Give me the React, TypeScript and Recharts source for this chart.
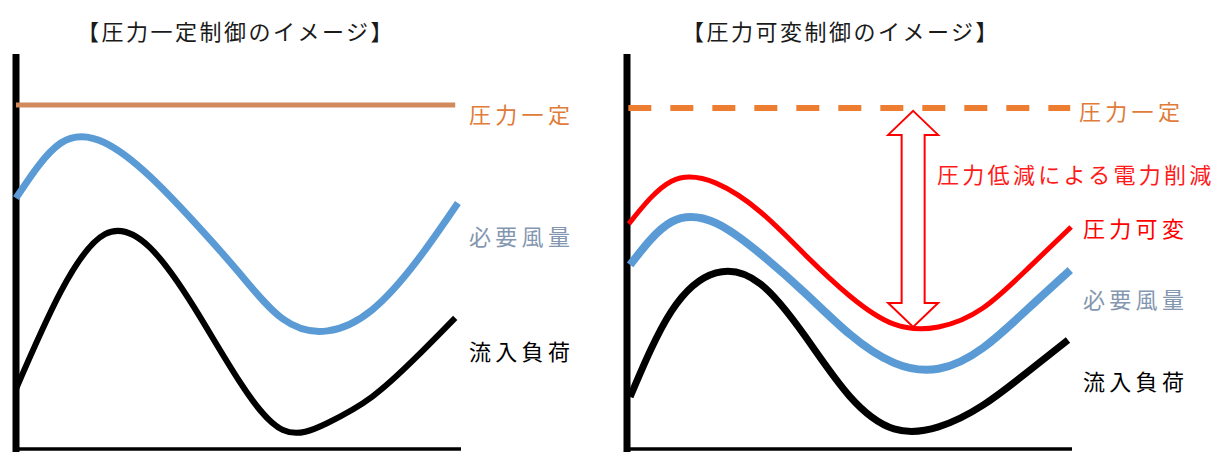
import { LineChart, Line, XAxis, YAxis, ReferenceLine } from 'recharts';

// values on a 0-100 scale (x: time, y: level)

// 圧力一定制御
const constPressureLeft = [
  { x: 0, y: 87.1 },
  { x: 98.7, y: 87.1 },
];
const airflowLeft = [
  { x: 0, y: 63.5 }, { x: 10, y: 77.4 }, { x: 20, y: 77.5 }, { x: 30, y: 69.1 },
  { x: 40, y: 57.5 }, { x: 50, y: 44.8 }, { x: 60, y: 32.9 }, { x: 70, y: 29.9 },
  { x: 80, y: 35.2 }, { x: 90, y: 47.5 }, { x: 99.3, y: 62.3 },
];
const loadLeft = [
  { x: 0, y: 15.2 }, { x: 10, y: 39.7 }, { x: 20, y: 54.4 }, { x: 30, y: 51.1 },
  { x: 40, y: 35.9 }, { x: 50, y: 17.5 }, { x: 60, y: 4.8 }, { x: 70, y: 6.6 },
  { x: 80, y: 13.2 }, { x: 90, y: 23.3 }, { x: 98.7, y: 33.2 },
];

// 圧力可変制御
const constPressureRight = [
  { x: 0.3, y: 86.3 },
  { x: 99.6, y: 86.3 },
];
const variablePressureRight = [
  { x: 0.4, y: 57.0 }, { x: 10, y: 67.8 }, { x: 20, y: 67.3 }, { x: 30, y: 60.0 },
  { x: 40, y: 49.2 }, { x: 50, y: 38.8 }, { x: 60, y: 31.6 }, { x: 70, y: 30.9 },
  { x: 80, y: 35.7 }, { x: 90, y: 45.6 }, { x: 99.8, y: 56.2 },
];
const airflowRight = [
  { x: 0.7, y: 46.6 }, { x: 10, y: 57.5 }, { x: 20, y: 57.2 }, { x: 30, y: 49.4 },
  { x: 40, y: 39.5 }, { x: 50, y: 29.1 }, { x: 60, y: 21.8 }, { x: 70, y: 20.3 },
  { x: 80, y: 25.6 }, { x: 90, y: 35.4 }, { x: 99.6, y: 45.3 },
];
const loadRight = [
  { x: 0.7, y: 13.2 }, { x: 10, y: 34.9 }, { x: 20, y: 44.6 }, { x: 30, y: 41.8 },
  { x: 40, y: 28.6 }, { x: 50, y: 13.4 }, { x: 60, y: 5.1 }, { x: 70, y: 5.6 },
  { x: 80, y: 11.1 }, { x: 90, y: 19.5 }, { x: 99.1, y: 27.6 },
];

// span of the saving arrow (from constant pressure down to the variable-pressure minimum)
const savingX = 64.3;
const savingTop = 85.6;
const savingBottom = 30.9;

const FONT = "'Noto Sans CJK JP', 'Noto Sans', sans-serif";
const W = 610;
const H = 452;
const MARGIN = { top: 54, right: W - 16 - 445, bottom: 3, left: 16 };

const DoubleArrow = (props: any) => {
  const { x1, y1, y2 } = props;
  const top = Math.min(y1, y2);
  const bot = Math.max(y1, y2);
  const hl = 24;
  const hw = 25;
  const sw = 11.5;
  const pts = [
    [x1, top], [x1 + hw, top + hl], [x1 + sw, top + hl], [x1 + sw, bot - hl], [x1 + hw, bot - hl],
    [x1, bot], [x1 - hw, bot - hl], [x1 - sw, bot - hl], [x1 - sw, top + hl], [x1 - hw, top + hl],
  ];
  return (
    <polygon
      points={pts.map((p) => p.join(',')).join(' ')}
      fill="#fff"
      stroke="#ff0000"
      strokeWidth={2}
    />
  );
};

const Axes = () => [
  <ReferenceLine
    key="yaxis"
    segment={[{ x: 0, y: -1 }, { x: 0, y: 100 }]}
    stroke="#000"
    strokeWidth={7}
    ifOverflow="visible"
  />,
  <ReferenceLine
    key="xaxis"
    segment={[{ x: 0, y: 0 }, { x: 100, y: 0 }]}
    stroke="#000"
    strokeWidth={3.5}
    ifOverflow="visible"
  />,
];

const Text = ({ left, cy, color, children, size = 22, spacing = 4.3, center = false }: any) => (
  <div
    style={{
      position: 'absolute',
      left: center ? left - 200 : left,
      width: center ? 400 : undefined,
      textAlign: center ? 'center' : 'left',
      top: cy - 12,
      height: 24,
      lineHeight: '24px',
      fontSize: size,
      letterSpacing: spacing,
      color,
      fontFamily: FONT,
      whiteSpace: 'nowrap',
    }}
  >
    {children}
  </div>
);

export default function App() {
  return (
    <div style={{ position: 'absolute', left: 0, top: 0, width: 1220, height: 452, background: '#fff', overflow: 'hidden' }}>
      <div style={{ position: 'absolute', left: 0, top: 0 }}>
        <LineChart width={W} height={H} margin={MARGIN}>
          <XAxis type="number" dataKey="x" domain={[0, 100]} hide />
          <YAxis type="number" dataKey="y" domain={[0, 100]} hide />
          {Axes()}
          <Line data={constPressureLeft} dataKey="y" type="linear" stroke="#d08a5c" strokeWidth={5} dot={false} isAnimationActive={false} />
          <Line data={airflowLeft} dataKey="y" type="natural" stroke="#5b9bd5" strokeWidth={7} dot={false} isAnimationActive={false} />
          <Line data={loadLeft} dataKey="y" type="natural" stroke="#000" strokeWidth={6} dot={false} isAnimationActive={false} />
        </LineChart>
      </div>
      <div style={{ position: 'absolute', left: 611, top: 0 }}>
        <LineChart width={W - 1} height={H} margin={{ ...MARGIN, right: W - 1 - 16 - 445 }}>
          <XAxis type="number" dataKey="x" domain={[0, 100]} hide />
          <YAxis type="number" dataKey="y" domain={[0, 100]} hide />
          {Axes()}
          <Line data={constPressureRight} dataKey="y" type="linear" stroke="#ed7d31" strokeWidth={6} strokeDasharray="23 19" dot={false} isAnimationActive={false} />
          <Line data={variablePressureRight} dataKey="y" type="natural" stroke="#ff0000" strokeWidth={5} dot={false} isAnimationActive={false} />
          <Line data={airflowRight} dataKey="y" type="natural" stroke="#5b9bd5" strokeWidth={8} dot={false} isAnimationActive={false} />
          <Line data={loadRight} dataKey="y" type="natural" stroke="#000" strokeWidth={7} dot={false} isAnimationActive={false} />
          <ReferenceLine
            segment={[{ x: savingX, y: savingTop }, { x: savingX, y: savingBottom }]}
            shape={DoubleArrow}
            ifOverflow="visible"
          />
        </LineChart>
      </div>

      <Text left={236} cy={30} color="#1a1a1a" spacing={2.5} center>【圧力一定制御のイメージ】</Text>
      <Text left={841} cy={30} color="#1a1a1a" spacing={2.5} center>【圧力可変制御のイメージ】</Text>

      <Text left={469} cy={113} color="#e07b39">圧力一定</Text>
      <Text left={469} cy={235} color="#8497b0">必要風量</Text>
      <Text left={469} cy={350} color="#000">流入負荷</Text>

      <Text left={1079} cy={110} color="#e07b39">圧力一定</Text>
      <Text left={937} cy={173} color="#ff1a1a" spacing={3.3}>圧力低減による電力削減</Text>
      <Text left={1083} cy={227} color="#ff0000">圧力可変</Text>
      <Text left={1083} cy={298} color="#8497b0">必要風量</Text>
      <Text left={1083} cy={380} color="#000">流入負荷</Text>
    </div>
  );
}
